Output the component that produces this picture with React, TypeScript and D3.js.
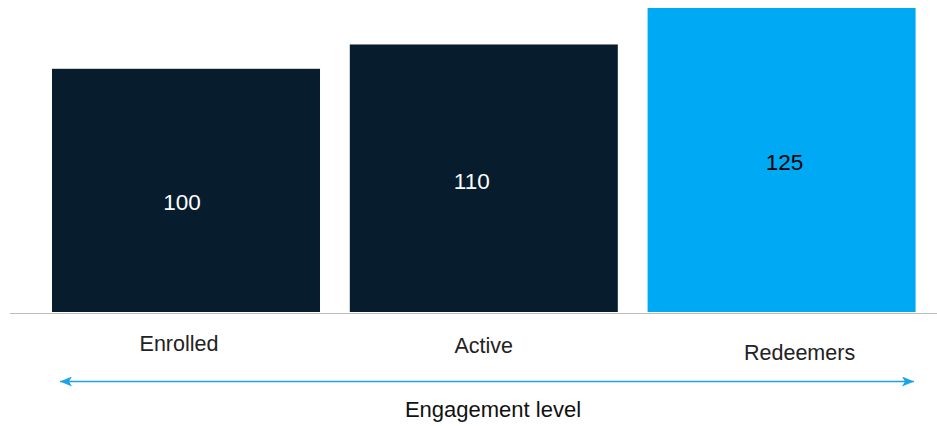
import React from "react";
import * as d3 from "d3";

const categories = ["Enrolled", "Active", "Redeemers"];
const values = [100, 110, 125];
const axisTitle = "Engagement level";

const W = 937;
const H = 426;
const FONT = "'Liberation Sans', Arial, sans-serif";

// style arrays (not data)
const barColors = ["#071d2e", "#071d2e", "#00a9f4"];
const valueColors = ["#ffffff", "#ffffff", "#000000"];
const valueDx = [-4, -12, 3];
const valueDy = [20, 11, 10];
const catDx = [-7, 0, 18];
const catY = [351, 353, 360];

export default function App() {
  const x = d3
    .scaleBand<string>()
    .domain(categories)
    .range([52, 915.6])
    .paddingInner(0.1)
    .paddingOuter(0);
  const y = d3.scaleLinear().domain([0, 125]).range([312, 8]);
  const baseY = y(0);

  return (
    <svg
      width={W}
      height={H}
      style={{ position: "absolute", left: 0, top: 0, background: "#fff" }}
      fontFamily={FONT}
    >
      <defs>
        <marker id="ah" viewBox="0 0 12 10" refX="12" refY="5" markerWidth="12" markerHeight="10" markerUnits="userSpaceOnUse" orient="auto-start-reverse">
          <path d="M0,0 L12,5 L0,10 L3,5 Z" fill="#1aa3e8" />
        </marker>
      </defs>
      {categories.map((c, i) => {
        const x0 = x(c)!;
        const yt = y(values[i]);
        return (
          <g key={c}>
            <rect x={x0} y={yt} width={x.bandwidth()} height={baseY - yt} fill={barColors[i]} />
            <text
              x={x0 + x.bandwidth() / 2 + valueDx[i]}
              y={(yt + baseY) / 2 + valueDy[i]}
              textAnchor="middle"
              fontSize={22.5}
              fill={valueColors[i]}
            >
              {values[i]}
            </text>
            <text
              x={x0 + x.bandwidth() / 2 + catDx[i]}
              y={catY[i]}
              textAnchor="middle"
              fontSize={21.5}
              fill="#222"
            >
              {c}
            </text>
          </g>
        );
      })}
      <line x1={10} x2={W} y1={baseY + 1.5} y2={baseY + 1.5} stroke="#bbbbbb" strokeWidth={1.2} />
      <line
        x1={60}
        x2={914}
        y1={381.5}
        y2={381.5}
        stroke="#1aa3e8"
        strokeWidth={1.5}
        markerStart="url(#ah)"
        markerEnd="url(#ah)"
      />
      <text x={493} y={417} textAnchor="middle" fontSize={22} fill="#111">
        {axisTitle}
      </text>
    </svg>
  );
}
